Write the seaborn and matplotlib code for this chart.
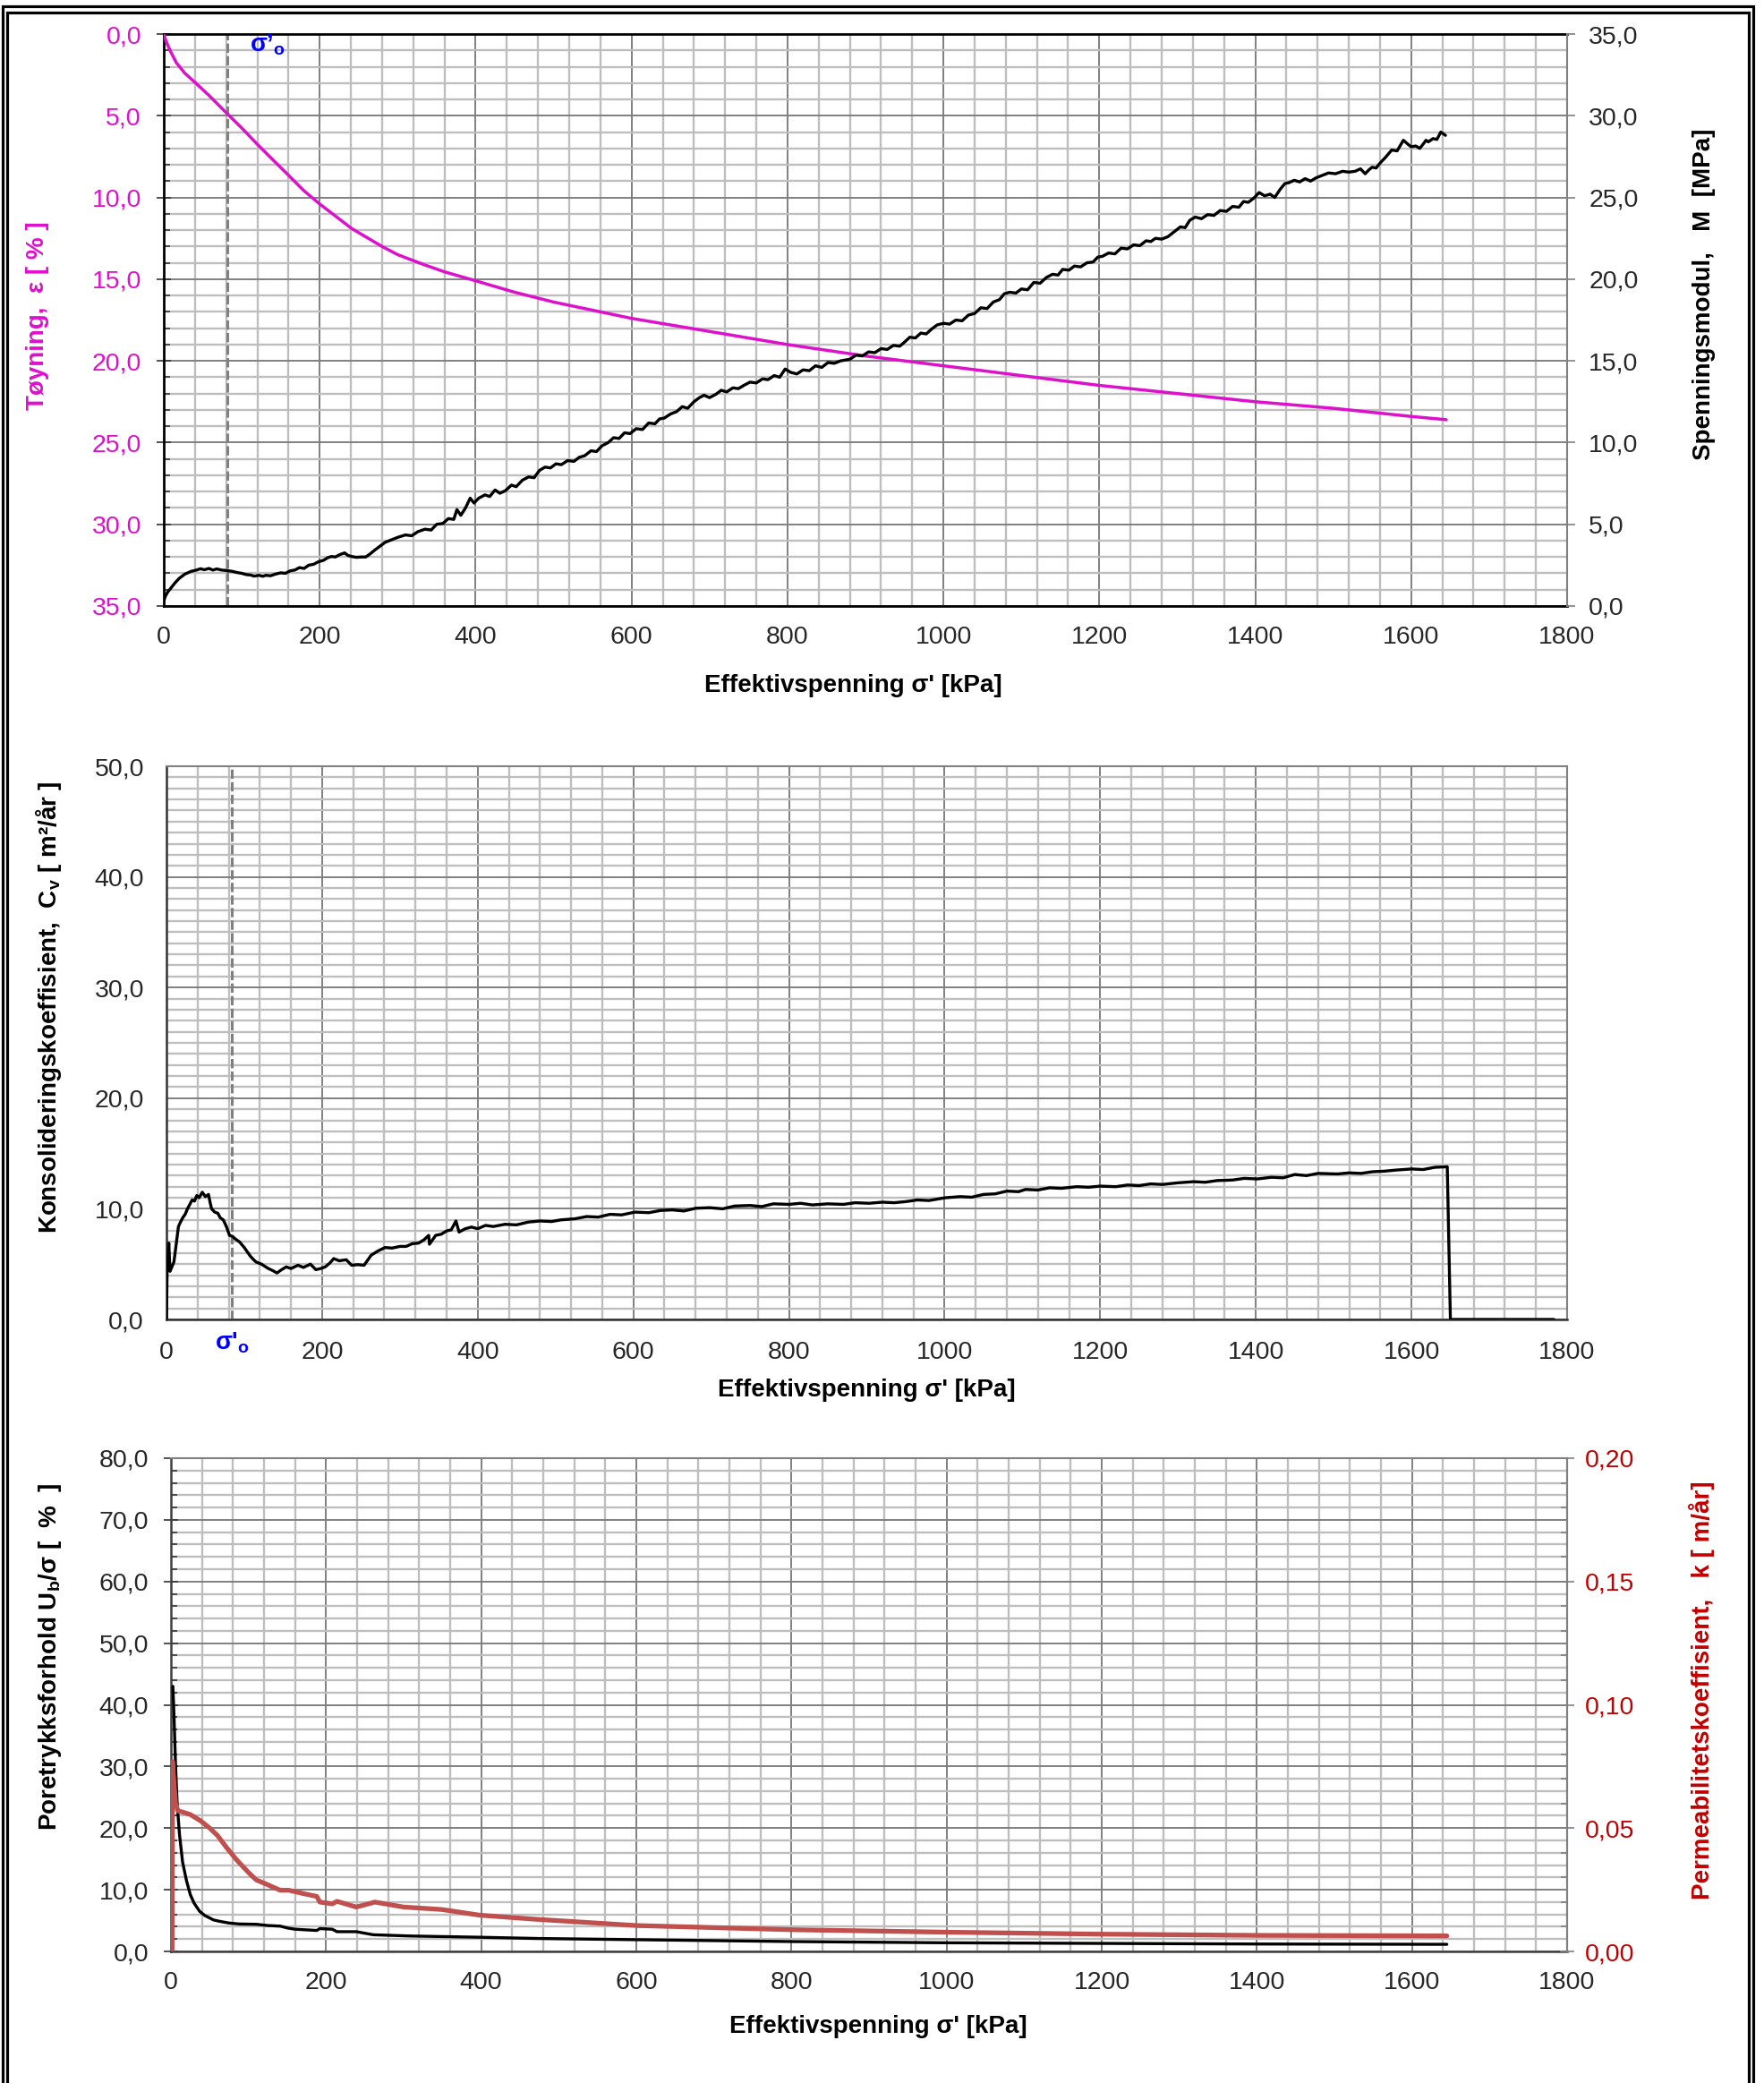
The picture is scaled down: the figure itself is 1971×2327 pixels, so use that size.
import matplotlib
matplotlib.use("Agg")
import matplotlib.pyplot as plt
from matplotlib.ticker import MultipleLocator, FuncFormatter
from matplotlib.lines import Line2D
import seaborn as sns

# ---------------- data ----------------
# Top panel: strain (left axis, inverted) and constrained modulus M (right axis)
strain_sigma = [0, 3, 8, 16, 27, 41, 58, 81, 100, 119, 140, 157, 180, 200, 241, 280,
                300, 333, 360, 400, 450, 500, 550, 600, 700, 800, 900, 1000, 1100, 1200,
                1300, 1400, 1500, 1600, 1645]
strain_pct = [0.0, 0.45, 1.0, 1.75, 2.4, 3.0, 3.76, 4.86, 5.75, 6.7, 7.7, 8.5, 9.6, 10.4,
              11.9, 13.0, 13.5, 14.1, 14.55, 15.1, 15.8, 16.4, 16.9, 17.4, 18.2, 19.0,
              19.7, 20.3, 20.9, 21.5, 22.0, 22.5, 22.9, 23.4, 23.6]

modulus_sigma = [0, 2, 5, 10, 15, 20, 27, 35, 42, 47, 52, 58, 63, 68, 74, 81, 88, 94,
                 100, 106, 111, 116, 122, 127, 131, 137, 143, 150, 156, 162, 168, 174,
                 180, 186, 192, 198, 205, 210, 215, 220, 226, 232, 236, 241, 247, 253,
                 259, 265, 270, 277, 284, 292,
                 300, 310, 318, 326, 335, 343, 350, 358, 365, 372, 376, 381, 387, 393,
                 398, 404, 412, 418, 425, 431, 438, 446, 452, 460, 468, 475, 482, 489,
                 496, 503, 510, 518, 526, 533, 540, 548, 555, 562, 570, 577, 584, 591,
                 598, 606, 614, 622, 630, 636, 642, 650, 658, 665, 672, 680, 687, 693,
                 700, 708, 715, 722, 730, 737, 744, 752, 760, 768, 775, 783, 790, 797,
                 804, 812, 820, 828, 836, 844, 852, 860, 868, 880, 888, 896, 904, 912,
                 920, 928, 936, 944, 949, 957, 964, 971, 978, 985, 992, 1000, 1008, 1016,
                 1024, 1032, 1040, 1048, 1056, 1064, 1072, 1078, 1085, 1093, 1100, 1108,
                 1116, 1124, 1132, 1140, 1147, 1153, 1161, 1168, 1176, 1184, 1192, 1198,
                 1204, 1212, 1220, 1228, 1236, 1244, 1252, 1260, 1266, 1272, 1280, 1288,
                 1296, 1304, 1310, 1316, 1323, 1331, 1339, 1347, 1355, 1363, 1371, 1379,
                 1385, 1391, 1398, 1405, 1412, 1419, 1425, 1432, 1438, 1443, 1450, 1457,
                 1464, 1471, 1478, 1486, 1494, 1503, 1512, 1520, 1528, 1535, 1541, 1546,
                 1550, 1555, 1560, 1567, 1575, 1582, 1590, 1596, 1600, 1606, 1611, 1616,
                 1619, 1622, 1628, 1633, 1638, 1644]
modulus_mpa = [0.3, 0.6, 0.85, 1.15, 1.45, 1.7, 1.95, 2.12, 2.2, 2.28, 2.22, 2.3, 2.2,
               2.27, 2.2, 2.17, 2.12, 2.05, 2.0, 1.92, 1.9, 1.83, 1.88, 1.82, 1.88, 1.85,
               1.95, 2.03, 2.0, 2.15, 2.2, 2.35, 2.3, 2.5, 2.55, 2.7, 2.8, 2.95, 3.03,
               3.0, 3.15, 3.25, 3.1, 3.03, 2.98, 3.0, 3.0, 3.2, 3.4, 3.65, 3.9, 4.05,
               4.2, 4.35, 4.3, 4.55, 4.7, 4.65, 5.0, 5.05, 5.35, 5.3, 5.9, 5.55, 6.0,
               6.6, 6.3, 6.6, 6.8, 6.7, 7.1, 6.9, 7.05, 7.4, 7.3, 7.7, 7.9, 7.85, 8.3,
               8.5, 8.45, 8.7, 8.65, 8.9, 8.85, 9.1, 9.2, 9.5, 9.45, 9.8, 10.0, 10.3,
               10.25, 10.6, 10.55, 10.85, 10.8, 11.2, 11.15, 11.45, 11.5, 11.75, 11.9,
               12.2, 12.1, 12.5, 12.75, 12.9, 12.75, 12.95, 13.2, 13.1, 13.35, 13.3,
               13.5, 13.7, 13.65, 13.9, 13.85, 14.1, 14.0, 14.5, 14.3, 14.2, 14.45,
               14.4, 14.7, 14.6, 14.9, 14.85, 15.0, 15.1, 15.35, 15.3, 15.55, 15.5,
               15.75, 15.7, 15.95, 15.9, 16.1, 16.45, 16.4, 16.7, 16.65, 16.95, 17.2,
               17.3, 17.25, 17.5, 17.45, 17.8, 17.9, 18.25, 18.2, 18.6, 18.75, 19.1,
               19.2, 19.15, 19.4, 19.35, 19.8, 19.75, 20.1, 20.3, 20.25, 20.6, 20.55,
               20.8, 20.75, 21.0, 21.05, 21.35, 21.4, 21.6, 21.55, 21.9, 21.85, 22.1,
               22.05, 22.35, 22.3, 22.5, 22.45, 22.6, 22.9, 23.2, 23.15, 23.6, 23.8,
               23.7, 23.95, 23.9, 24.2, 24.15, 24.45, 24.4, 24.75, 24.7, 24.95, 25.3,
               25.1, 25.2, 25.0, 25.5, 25.85, 25.9, 26.05, 25.95, 26.15, 26.0, 26.2,
               26.35, 26.5, 26.45, 26.6, 26.55, 26.6, 26.75, 26.45, 26.7, 26.85, 26.8,
               27.1, 27.45, 27.9, 27.85, 28.5, 28.25, 28.1, 28.15, 28.0, 28.3, 28.5,
               28.4, 28.6, 28.55, 29.0, 28.8]

# Middle panel: coefficient of consolidation
cv_sigma = [0, 0.8, 3, 4.6, 9.6, 12, 15.4, 18, 21, 24, 27, 30, 33, 36, 39, 42, 46, 50,
            54, 56, 58, 62, 66, 69, 73, 77, 81, 85, 88, 94, 100, 104, 108, 112, 115,
            122, 131, 137, 142, 148, 154, 160, 169, 176, 185, 192, 198, 204, 210, 215,
            222, 231, 238, 246, 254, 263, 272, 281, 290, 300, 308, 316, 324, 331, 337,
            338, 346, 353, 360, 366, 372, 376, 384, 392,
            400, 410, 420, 435, 450, 465, 480, 495, 507, 525, 540, 555, 570, 585, 602,
            620, 635, 650, 665, 680, 698, 715, 730, 750, 765, 780, 800, 815, 830, 850,
            870, 885, 903, 920, 935, 950, 965, 980, 1001, 1020, 1035, 1050, 1065, 1080,
            1095, 1104, 1120, 1135, 1150, 1170, 1185, 1200, 1220, 1235, 1250, 1265,
            1280, 1300, 1320, 1335, 1350, 1370, 1385, 1402, 1420, 1435, 1450, 1465,
            1480, 1505, 1520, 1535, 1550, 1565, 1580, 1600, 1615, 1630, 1646, 1650, 1783]
cv_value = [0.0, 4.2, 6.9, 4.35, 5.2, 6.5, 8.4, 8.8, 9.2, 9.5, 10.0, 10.4, 10.8, 10.7,
            11.2, 11.0, 11.5, 11.1, 11.3, 10.6, 10.0, 9.7, 9.6, 9.2, 9.0, 8.4, 7.6, 7.5,
            7.3, 7.0, 6.5, 6.1, 5.7, 5.4, 5.2, 5.0, 4.6, 4.4, 4.2, 4.5, 4.75, 4.6, 4.9,
            4.7, 5.0, 4.5, 4.6, 4.75, 5.1, 5.5, 5.3, 5.4, 4.9, 4.95, 4.9, 5.8, 6.2,
            6.5, 6.45, 6.6, 6.6, 6.85, 6.9, 7.2, 7.6, 6.8, 7.6, 7.7, 8.0, 8.1, 8.9,
            7.9, 8.2, 8.35,
            8.2, 8.5, 8.4, 8.6, 8.55, 8.8, 8.9, 8.85, 9.0, 9.1, 9.3, 9.25, 9.5, 9.45,
            9.7, 9.65, 9.85, 9.9, 9.8, 10.05, 10.1, 10.0, 10.25, 10.3, 10.2, 10.45,
            10.4, 10.5, 10.35, 10.45, 10.4, 10.55, 10.5, 10.6, 10.55, 10.65, 10.8,
            10.75, 11.0, 11.1, 11.05, 11.3, 11.35, 11.6, 11.55, 11.75, 11.7, 11.9,
            11.85, 12.0, 11.95, 12.05, 12.0, 12.15, 12.1, 12.25, 12.2, 12.35, 12.45,
            12.4, 12.55, 12.6, 12.75, 12.7, 12.85, 12.8, 13.1, 13.0, 13.2, 13.15,
            13.25, 13.2, 13.35, 13.4, 13.5, 13.6, 13.55, 13.75, 13.8, 0.0, 0.0]

# Bottom panel: pore pressure ratio (left axis) and permeability (right axis)
ub_sigma = [2.5, 4, 6, 8, 11, 15, 20, 25, 30, 37, 44, 55, 62, 75, 88, 110, 125, 141,
            150, 160, 188, 192, 208, 214, 239, 261, 309, 398, 472, 600, 800, 1000,
            1200, 1400, 1645]
ub_pct = [43.0, 38.0, 30.0, 24.0, 19.0, 14.5, 11.5, 9.2, 7.8, 6.5, 5.8, 5.1, 4.9, 4.6,
          4.45, 4.4, 4.2, 4.1, 3.8, 3.6, 3.4, 3.7, 3.6, 3.2, 3.2, 2.7, 2.5, 2.3, 2.1,
          1.9, 1.6, 1.4, 1.3, 1.2, 1.15]

k_sigma = [1.5, 2, 4, 6, 9, 15, 25, 38, 50, 60, 72, 85, 100, 110, 125, 141, 152, 170,
           188, 192, 208, 214, 239, 263, 300, 349, 398, 472, 600, 800, 1000, 1200,
           1400, 1645]
k_value = [0.0, 0.077, 0.068, 0.060, 0.057, 0.0565, 0.0555, 0.053, 0.050, 0.047, 0.042,
           0.037, 0.032, 0.029, 0.027, 0.0248, 0.0248, 0.0235, 0.0223, 0.020, 0.0193,
           0.0203, 0.018, 0.020, 0.018, 0.017, 0.0147, 0.013, 0.0105, 0.0088, 0.0078,
           0.0070, 0.0065, 0.0063]

sigma_0 = 82  # preconsolidation stress marker [kPa]

# ---------------- styling ----------------
sns.set_style("white")
plt.rcParams["font.family"] = ["Liberation Sans", "DejaVu Sans"]
plt.rcParams["mathtext.fontset"] = "custom"
plt.rcParams["mathtext.rm"] = "Liberation Sans"
plt.rcParams["mathtext.bf"] = "Liberation Sans:bold"
plt.rcParams["mathtext.it"] = "Liberation Sans:italic"

MAGENTA = "#DD11CC"
DARKRED = "#C00000"
KRED = "#C0504D"
BLUE = "#0000FF"
MAJ = "#808080"
MIN = "#BEBEBE"

W, H = 1971, 2327
fig = plt.figure(figsize=(W / 100, H / 100), dpi=100)


def box(l, t, r, b):
    return [l / W, 1 - b / H, (r - l) / W, (b - t) / H]


def fx(px):
    return px / W


def fy(py):
    return 1 - py / H


def comma(fmt):
    return FuncFormatter(lambda v, p: fmt.format(v).replace(".", ","))


TICK_FS = 20.5
LABEL_FS = 20


def base_axes(ax, ymaj, ymin, fmt):
    ax.set_xlim(0, 1800)
    ax.xaxis.set_major_locator(MultipleLocator(200))
    ax.xaxis.set_minor_locator(MultipleLocator(40))
    ax.yaxis.set_major_locator(MultipleLocator(ymaj))
    ax.yaxis.set_minor_locator(MultipleLocator(ymin))
    ax.yaxis.set_major_formatter(comma(fmt))
    ax.grid(which="minor", color=MIN, lw=1.7, zorder=0)
    ax.grid(which="major", color=MAJ, lw=1.4, zorder=0)
    ax.set_axisbelow(True)
    ax.tick_params(which="major", direction="inout", length=12, width=1.2,
                   labelsize=TICK_FS, color="#333333")
    ax.tick_params(which="minor", direction="in", length=5, width=1.2, color="#333333")
    ax.tick_params(axis="x", which="major", pad=9.5)
    ax.tick_params(axis="y", which="major", pad=12)


# ================= top panel =================
ax1 = fig.add_axes(box(183, 38, 1751, 677))
base_axes(ax1, 5, 1, "{:.1f}")
sns.lineplot(x=strain_sigma, y=strain_pct, ax=ax1, color=MAGENTA, lw=2.5,
             sort=False, estimator=None, zorder=3)
ax1.set_ylim(35, 0)
ax1.set_xlim(0, 1800)
ax1.tick_params(axis="y", labelcolor=MAGENTA)
ax1.axvline(sigma_0, color=MAJ, lw=2.2, ls=(0, (3.4, 1.2)), zorder=2)
for s in ["left", "bottom", "top"]:
    ax1.spines[s].set_color("black")
    ax1.spines[s].set_linewidth(2)
ax1.spines["right"].set_visible(False)
ax1.set_xlabel("")
ax1.set_ylabel("")

ax1r = ax1.twinx()
sns.lineplot(x=modulus_sigma, y=modulus_mpa, ax=ax1r, color="black", lw=2.4,
             sort=False, estimator=None)
ax1r.set_ylim(0, 35)
ax1r.set_xlim(0, 1800)
ax1r.yaxis.set_major_locator(MultipleLocator(5))
ax1r.yaxis.set_major_formatter(comma("{:.1f}"))
ax1r.tick_params(axis="y", direction="out", length=6.5, width=1.2, color=MAJ,
                 labelsize=TICK_FS, pad=11)
for s in ["left", "bottom", "top"]:
    ax1r.spines[s].set_visible(False)
ax1r.spines["right"].set_color(MAJ)
ax1r.spines["right"].set_linewidth(1.5)
ax1r.set_ylabel("")
ax1r.grid(False)

fig.text(fx(279), fy(50), "σ’$_\\mathbf{o}$", color=BLUE, fontsize=20,
         fontweight="bold", ha="left", va="center")

fig.text(fx(42), fy(353), "Tøyning,  ε [ % ]", rotation=90, color=MAGENTA,
         fontsize=LABEL_FS, fontweight="bold", ha="center", va="center")
fig.text(fx(1904), fy(329), "Spenningsmodul,   M  [MPa]", rotation=90, color="black",
         fontsize=LABEL_FS, fontweight="bold", ha="center", va="center")
fig.text(fx(953), fy(766), "Effektivspenning σ' [kPa]", color="black",
         fontsize=LABEL_FS, fontweight="bold", ha="center", va="center")

# ================= middle panel =================
ax2 = fig.add_axes(box(186, 856, 1751, 1474))
base_axes(ax2, 10, 1, "{:.1f}")
sns.lineplot(x=cv_sigma, y=cv_value, ax=ax2, color="black", lw=2.4,
             sort=False, estimator=None, zorder=3)
ax2.set_ylim(0, 50)
ax2.set_xlim(0, 1800)
ax2.axvline(sigma_0 + 2, color=MAJ, lw=2.2, ls=(0, (3.4, 1.2)), zorder=2)
ax2.tick_params(axis="y", which="major", direction="out", length=6)
ax2.tick_params(axis="y", which="minor", length=0)
ax2.tick_params(axis="x", which="major", direction="out", length=6, pad=11.5)
for s in ["left", "bottom"]:
    ax2.spines[s].set_color("#333333")
    ax2.spines[s].set_linewidth(1.8)
for s in ["top", "right"]:
    ax2.spines[s].set_color(MAJ)
    ax2.spines[s].set_linewidth(1.5)
ax2.set_xlabel("")
ax2.set_ylabel("")

fig.text(fx(240), fy(1500), "σ'$_\\mathbf{o}$", color=BLUE, fontsize=20,
         fontweight="bold", ha="left", va="center")
fig.text(fx(55), fy(1125), "Konsolideringskoeffisient,  C$_\\mathbf{v}$ [ m²/år ]",
         rotation=90, color="black", fontsize=LABEL_FS, fontweight="bold",
         ha="center", va="center")
fig.text(fx(968), fy(1553), "Effektivspenning σ' [kPa]", color="black",
         fontsize=LABEL_FS, fontweight="bold", ha="center", va="center")

# ================= bottom panel =================
ax3 = fig.add_axes(box(191, 1629, 1751, 2180))
base_axes(ax3, 10, 2, "{:.1f}")
sns.lineplot(x=ub_sigma, y=ub_pct, ax=ax3, color="black", lw=2.4,
             sort=False, estimator=None, zorder=3)
ax3.set_ylim(0, 80)
ax3.set_xlim(0, 1800)
for s in ["left", "bottom"]:
    ax3.spines[s].set_color("#404040")
    ax3.spines[s].set_linewidth(1.8)
for s in ["top", "right"]:
    ax3.spines[s].set_color(MAJ)
    ax3.spines[s].set_linewidth(1.5)
ax3.set_xlabel("")
ax3.set_ylabel("")

ax3r = ax3.twinx()
sns.lineplot(x=k_sigma, y=k_value, ax=ax3r, color=KRED, lw=3.8,
             sort=False, estimator=None)
ax3r.set_ylim(0, 0.20)
ax3r.set_xlim(0, 1800)
ax3r.yaxis.set_major_locator(MultipleLocator(0.05))
ax3r.yaxis.set_minor_locator(MultipleLocator(0.01))
ax3r.yaxis.set_major_formatter(comma("{:.2f}"))
ax3r.tick_params(axis="y", which="major", direction="inout", length=12, width=1.2,
                 color=MAJ, labelsize=TICK_FS, labelcolor=DARKRED, pad=8)
ax3r.tick_params(axis="y", which="minor", direction="in", length=5, width=1.2, color=MAJ)
for s in ["left", "bottom", "top"]:
    ax3r.spines[s].set_visible(False)
ax3r.spines["right"].set_color(MAJ)
ax3r.spines["right"].set_linewidth(1.5)
ax3r.set_ylabel("")
ax3r.grid(False)

fig.text(fx(56), fy(1851), "Poretrykksforhold U$_\\mathbf{b}$/σ [  %  ]", rotation=90,
         color="black", fontsize=LABEL_FS, fontweight="bold", ha="center", va="center")
fig.text(fx(1901), fy(1888), "Permeabilitetskoeffisient,   k [ m/år]", rotation=90,
         color=DARKRED, fontsize=LABEL_FS, fontweight="bold", ha="center", va="center")
fig.text(fx(981), fy(2264), "Effektivspenning σ' [kPa]", color="black",
         fontsize=LABEL_FS, fontweight="bold", ha="center", va="center")

# ================= double page frame =================
def frame(l, t, r, lw):
    pts_x = [fx(l), fx(l), fx(r), fx(r)]
    pts_y = [fy(H + 20), fy(t), fy(t), fy(H + 20)]
    fig.add_artist(Line2D(pts_x, pts_y, transform=fig.transFigure, color="black",
                          lw=lw, solid_joinstyle="miter"))


frame(3, 6.5, 1958.5, 2.3)
frame(8, 13.5, 1953.5, 2.3)

fig.savefig("out.png", dpi=100)
